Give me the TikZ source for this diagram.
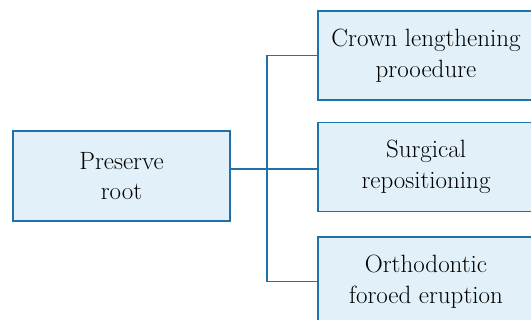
\documentclass[tikz,border=0pt]{standalone}
\usetikzlibrary{positioning}
\definecolor{boxline}{HTML}{2070AA}
\definecolor{boxfill}{HTML}{E2F1F9}
\tikzset{x=1pt, y=1pt,
node distance=22pt,
every box/.style={
draw=boxline,
line width=1.5pt,
fill=boxfill,
align=center,
text=black,
font=\fontsize{25}{30.5}\selectfont,
minimum height=89pt},
link/.style={
draw=boxline,
line width=1.4pt}}

\begin{document}
\begin{tikzpicture}
\useasboundingbox (0,0) rectangle (531,320);
\tikzset{rootbox/.style={every box, minimum width=217pt, minimum height=90pt},
leafbox/.style={every box, minimum width=216pt}}
\node[rootbox] (root) at (121.5,144) {Preserve\\root};
\node[leafbox] (crown) at (426,264.5) {Crown lengthening\\prooedure};
\node[leafbox, below=21pt of crown] (surgical) {Surgical\\repositioning};
\node[leafbox, below=24pt of surgical] (ortho) {Orthodontic\\foroed eruption};
\coordinate (fork) at (267,151);
\draw[link] (root.east |- fork) -- (surgical.west |- fork);
\draw[link] (crown.west) -- (fork |- crown.west) -- (fork |- ortho.west) -- (ortho.west);
\end{tikzpicture}
\end{document}
